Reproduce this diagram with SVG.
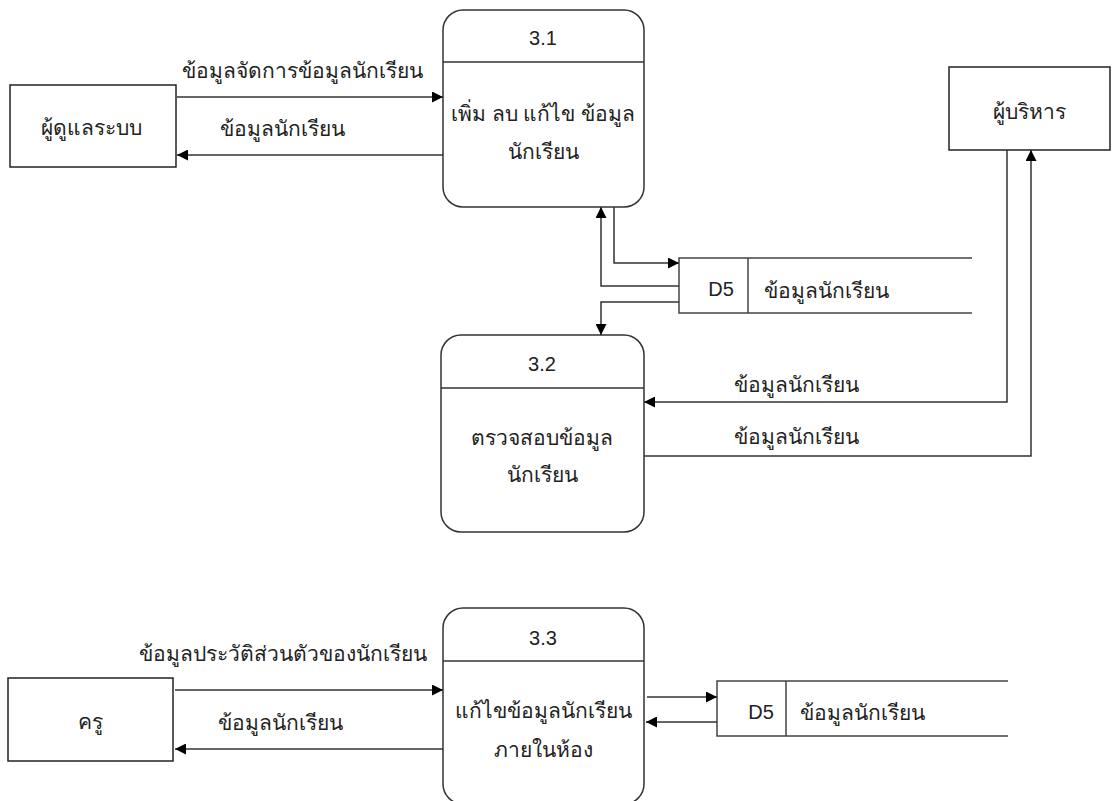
<svg xmlns="http://www.w3.org/2000/svg" width="1112" height="801" viewBox="0 0 1112 801">
<defs>
<style>
text{font-family:"Liberation Sans","Noto Sans",sans-serif;font-size:21px;fill:#222;text-anchor:middle;dominant-baseline:central}
.lat{font-size:20px}
.ent{fill:#fff;stroke:#222;stroke-width:1.5}
.proc{fill:#fff;stroke:#333;stroke-width:1.5}
.div{stroke:#333;stroke-width:1.5;fill:none}
.ds{stroke:#444;stroke-width:1.5;fill:none}
.flow{stroke:#333;stroke-width:1.5;fill:none;marker-end:url(#ah)}
</style>
<marker id="ah" viewBox="0 0 10 10" refX="10" refY="5" markerWidth="11" markerHeight="11" markerUnits="userSpaceOnUse" orient="auto">
<path d="M0,0 L10,5 L0,10 z" fill="#000"/>
</marker>
</defs>
<rect width="1112" height="801" fill="#fff"/>
<g id="admin">
<rect class="ent" x="10" y="85" width="166" height="82"/>
<text x="91" y="127">ผู้ดูแลระบบ</text>
</g>
<g id="exec">
<rect class="ent" x="949" y="67" width="161" height="83"/>
<text x="1029" y="111">ผู้บริหาร</text>
</g>
<g id="teacher">
<rect class="ent" x="8" y="678" width="165" height="83"/>
<text x="90" y="721">ครู</text>
</g>
<g id="p31">
<rect class="proc" x="443" y="10" width="201" height="197" rx="20"/>
<line class="div" x1="443" y1="62" x2="644" y2="62"/>
<text class="lat" x="543" y="38">3.1</text>
<text x="543" y="113">เพิ่ม ลบ แก้ไข ข้อมูล</text>
<text x="543" y="151">นักเรียน</text>
</g>
<g id="p32">
<rect class="proc" x="441" y="335" width="203" height="197" rx="20"/>
<line class="div" x1="441" y1="388" x2="644" y2="388"/>
<text class="lat" x="542" y="364">3.2</text>
<text x="542" y="437">ตรวจสอบข้อมูล</text>
<text x="542" y="474">นักเรียน</text>
</g>
<g id="p33">
<rect class="proc" x="443" y="608" width="201" height="196" rx="20"/>
<line class="div" x1="443" y1="661" x2="644" y2="661"/>
<text class="lat" x="543" y="638">3.3</text>
<text x="543" y="710">แก้ไขข้อมูลนักเรียน</text>
<text x="543" y="749">ภายในห้อง</text>
</g>
<g id="d5a">
<path class="ds" d="M972,258 H679 V313 H972 M748,258 V313"/>
<text class="lat" x="721" y="289">D5</text>
<text x="826" y="290">ข้อมูลนักเรียน</text>
</g>
<g id="d5b">
<path class="ds" d="M1008,681 H717 V736 H1008 M786,681 V736"/>
<text class="lat" x="761" y="712">D5</text>
<text x="862" y="712">ข้อมูลนักเรียน</text>
</g>
<g id="connectors">
<path class="flow" d="M177,97 H443"/>
<path class="flow" d="M443,155 H177"/>
<path class="flow" d="M614,207 V263 H679"/>
<path class="flow" d="M679,286 H601 V207"/>
<path class="flow" d="M679,302 H601 V335"/>
<path class="flow" d="M1007,150 V402 H644"/>
<path class="flow" d="M644,456 H1031 V150"/>
<path class="flow" d="M175,690 H443"/>
<path class="flow" d="M443,749 H175"/>
<path class="flow" d="M647,697 H717"/>
<path class="flow" d="M717,722 H646"/>
</g>
<g id="labels">
<text x="302" y="70">ข้อมูลจัดการข้อมูลนักเรียน</text>
<text x="282" y="128">ข้อมูลนักเรียน</text>
<text x="796" y="384">ข้อมูลนักเรียน</text>
<text x="796" y="436">ข้อมูลนักเรียน</text>
<text x="283" y="653">ข้อมูลประวัติส่วนตัวของนักเรียน</text>
<text x="280" y="722">ข้อมูลนักเรียน</text>
</g>
</svg>
